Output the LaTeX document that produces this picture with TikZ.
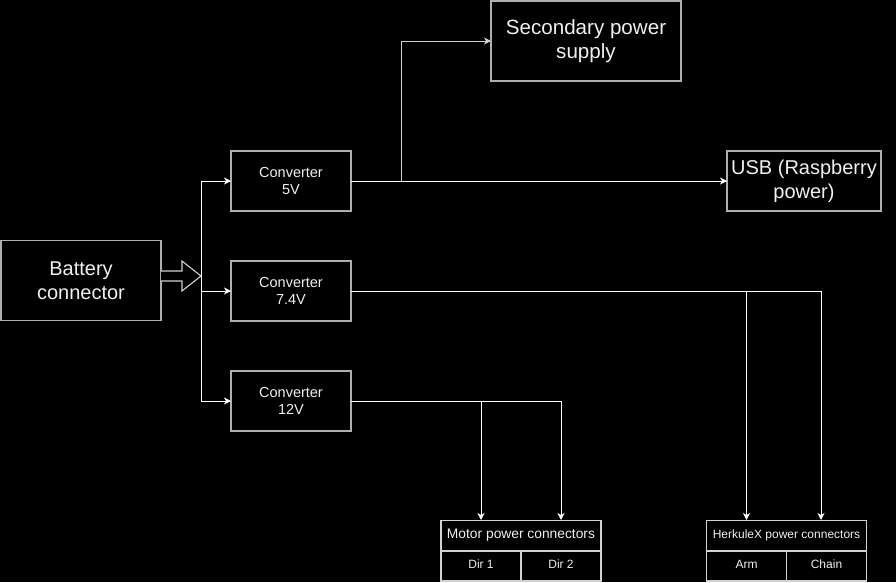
\documentclass[tikz,border=0pt]{standalone}
\usepackage{fontspec}
\setmainfont{Liberation Sans}
\usetikzlibrary{arrows.meta}
\definecolor{boxc}{RGB}{175,175,175}
\definecolor{boxl}{RGB}{210,210,210}
\definecolor{txt}{RGB}{240,240,240}
\begin{document}
\begin{tikzpicture}[x=1pt,y=-1pt,
  box/.style={draw=boxc,line width=1.2pt,fill=black,text=txt,align=center,inner sep=0pt,outer sep=0pt},
  bigtxt/.style={font=\fontsize{20}{24}\selectfont},
  convtxt/.style={font=\fontsize{14.5}{17.6}\selectfont},
  smalltxt/.style={font=\fontsize{12}{14}\selectfont},
  cell/.style={box,draw=boxl,smalltxt,minimum width=80pt,minimum height=30pt,text height=9pt,text depth=4pt},
  conn/.style={draw=white,line width=1pt,-{Stealth[length=7pt,width=7pt,inset=2pt]}}]
\fill[black] (0,0) rectangle (896,582);
\useasboundingbox (0,0) rectangle (896,582);

% boxes
\node[box,bigtxt,minimum width=160pt,minimum height=80pt] (bat) at (81,280.5) {Battery\\connector};
\node[box,convtxt,minimum width=120pt,minimum height=60pt] (c5) at (291,181) {Converter\\5V};
\node[box,convtxt,minimum width=120pt,minimum height=60pt] (c74) at (291,291) {Converter\\7.4V};
\node[box,convtxt,minimum width=120pt,minimum height=60pt] (c12) at (291,401) {Converter\\12V};
\node[box,font=\fontsize{20.6}{24.5}\selectfont,minimum width=190pt,minimum height=80pt] (sec) at (586,41) {Secondary power\\supply};
\node[box,bigtxt,minimum width=154pt,minimum height=60pt] (usb) at (804,181) {USB (Raspberry\\power)};

\node[box,draw=boxl,font=\fontsize{13.8}{16}\selectfont,minimum width=160pt,minimum height=30.5pt] (mot) at (521,535.5) {Motor power connectors};
\node[cell] (dir1) at (481,566) {Dir 1};
\node[cell] (dir2) at (561,566) {Dir 2};

\node[box,draw=boxl,smalltxt,minimum width=160pt,minimum height=30.5pt] (herk) at (786.5,535.5) {HerkuleX power connectors};
\node[cell] (arm) at (746.5,566) {Arm};
\node[cell] (chain) at (826.5,566) {Chain};

% block arrow from battery
\coordinate (bus) at (201,276);
\draw[draw=boxl,line width=1.1pt,fill=black,line join=miter]
  (bat.east |- 0,271) -- (182,271) -- (182,261) -- (bus) -- (182,291) -- (182,281) -- (bat.east |- 0,281);

% bus to converters
\draw[conn] (bus) |- (c5.west);
\draw[conn] (bus) |- (c74.west);
\draw[conn] (bus) |- (c12.west);

% 5V outputs
\coordinate (s5) at (401,181);
\draw[conn] (c5.east) -- (usb.west);
\draw[conn,draw=boxl] (s5) |- (sec.west);

% 7.4V outputs
\coordinate (armin) at (746.5,520);
\coordinate (chainin) at (821,520);
\coordinate (s74) at (746.5,291);
\draw[conn] (c74.east) -| (chainin);
\draw[conn] (s74) -- (armin);

% 12V outputs
\coordinate (d1in) at (481,520);
\coordinate (d2in) at (561,520);
\coordinate (s12) at (481,401);
\draw[conn] (c12.east) -| (d2in);
\draw[conn] (s12) -- (d1in);
\end{tikzpicture}
\end{document}
